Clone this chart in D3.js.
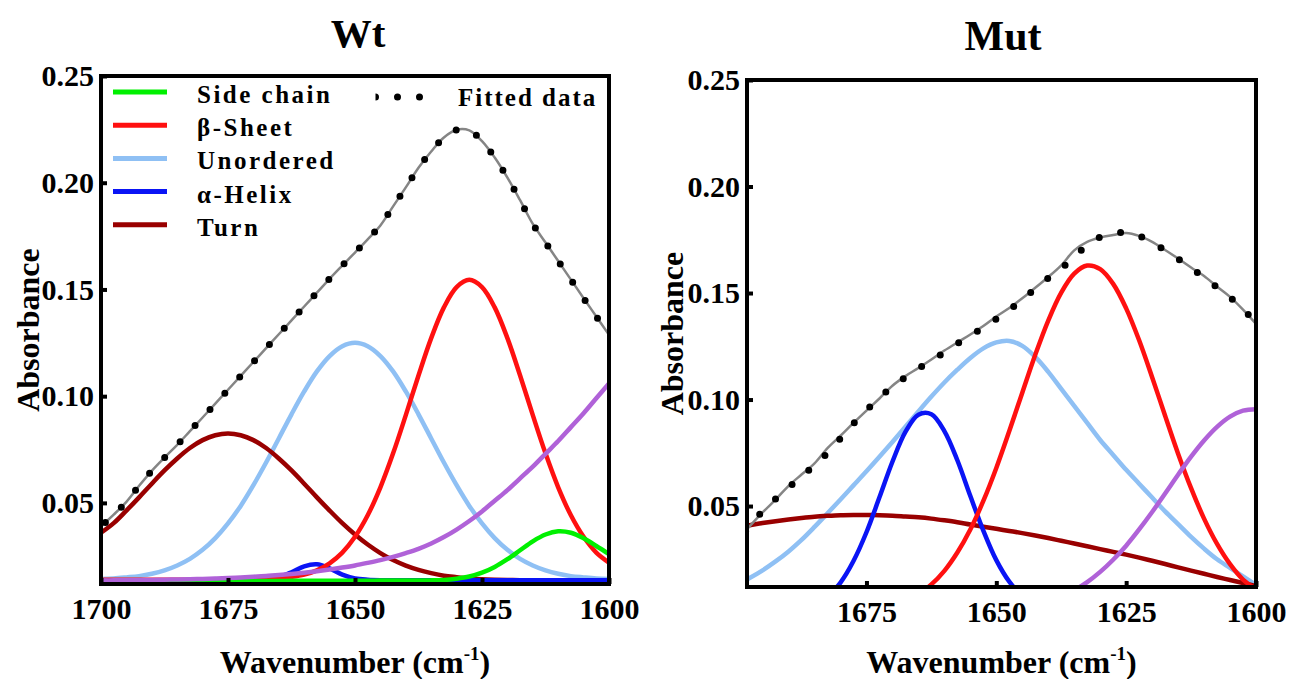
<!DOCTYPE html>
<html>
<head>
<meta charset="utf-8">
<script src="https://cdn.jsdelivr.net/npm/d3@7"></script>
<style>
  body { margin: 0; background: #fff; }
  svg text { font-family: "Liberation Serif", "Times New Roman", serif; font-weight: bold; fill: #000; }
</style>
</head>
<body>
<svg id="chart" width="1303" height="679" font-family="Liberation Serif, Times New Roman, serif" font-weight="bold"></svg>
<script>
// wavenumber grid shared by every series (cm-1)
var wavenumbers = [1700, 1697.5, 1695, 1692.5, 1690, 1687.5, 1685, 1682.5, 1680, 1677.5,
  1675, 1672.5, 1670, 1667.5, 1665, 1662.5, 1660, 1657.5, 1655, 1652.5,
  1650, 1647.5, 1645, 1642.5, 1640, 1637.5, 1635, 1632.5, 1630, 1627.5,
  1625, 1622.5, 1620, 1617.5, 1615, 1612.5, 1610, 1607.5, 1605, 1602.5, 1600];

var yTicks = [0.25, 0.20, 0.15, 0.10, 0.05];
var wtXTicks = [1700, 1675, 1650, 1625, 1600];
var mutXTicks = [1675, 1650, 1625, 1600];

var legendLabels = ["Side chain", "\u03b2-Sheet", "Unordered", "\u03b1-Helix", "Turn"];
var legendColors = ["#00f000", "#ff1010", "#8fc0f4", "#0a14f5", "#990000"];
var bandColor = "#b062d8";

// ---- Wt ----
var wtSideChain = [0.0133, 0.0133, 0.0133, 0.0133, 0.0133, 0.0133, 0.0133, 0.0133, 0.0134, 0.0134,
  0.0134, 0.0134, 0.0134, 0.0134, 0.0134, 0.0135, 0.0135, 0.0135, 0.0135, 0.0135,
  0.0135, 0.0135, 0.0136, 0.0136, 0.0136, 0.0136, 0.0137, 0.0139, 0.0145, 0.0155,
  0.0173, 0.0200, 0.0236, 0.0278, 0.0320, 0.0352, 0.0367, 0.0360, 0.0334, 0.0298, 0.0260];
var wtBetaSheet = [0.0140, 0.0140, 0.0140, 0.0140, 0.0140, 0.0140, 0.0140, 0.0140, 0.0140, 0.0140,
  0.0140, 0.0140, 0.0141, 0.0143, 0.0146, 0.0153, 0.0164, 0.0184, 0.0217, 0.0267,
  0.0341, 0.0442, 0.0573, 0.0732, 0.0911, 0.1097, 0.1272, 0.1416, 0.1511, 0.1545,
  0.1511, 0.1416, 0.1272, 0.1097, 0.0911, 0.0732, 0.0573, 0.0442, 0.0341, 0.0267, 0.0220];
var wtUnordered = [0.0144, 0.0146, 0.0151, 0.0157, 0.0168, 0.0184, 0.0207, 0.0238, 0.0280, 0.0335,
  0.0404, 0.0486, 0.0583, 0.0689, 0.0802, 0.0915, 0.1022, 0.1116, 0.1188, 0.1234,
  0.1250, 0.1234, 0.1188, 0.1116, 0.1022, 0.0915, 0.0802, 0.0689, 0.0583, 0.0486,
  0.0404, 0.0335, 0.0280, 0.0238, 0.0207, 0.0184, 0.0168, 0.0157, 0.0151, 0.0146, 0.0144];
var wtAlphaHelix = [0.0138, 0.0138, 0.0138, 0.0138, 0.0138, 0.0138, 0.0138, 0.0138, 0.0138, 0.0138,
  0.0138, 0.0138, 0.0138, 0.0141, 0.0152, 0.0175, 0.0203, 0.0212, 0.0193, 0.0164,
  0.0146, 0.0140, 0.0138, 0.0138, 0.0138, 0.0138, 0.0138, 0.0138, 0.0138, 0.0138,
  0.0138, 0.0138, 0.0138, 0.0138, 0.0138, 0.0138, 0.0138, 0.0138, 0.0138, 0.0138, 0.0138];
var wtTurn = [0.0360, 0.0405, 0.0464, 0.0526, 0.0590, 0.0652, 0.0708, 0.0757, 0.0794, 0.0817,
  0.0825, 0.0817, 0.0794, 0.0757, 0.0708, 0.0652, 0.0590, 0.0526, 0.0464, 0.0405,
  0.0352, 0.0305, 0.0265, 0.0232, 0.0206, 0.0186, 0.0171, 0.0159, 0.0152, 0.0146,
  0.0142, 0.0140, 0.0139, 0.0138, 0.0138, 0.0137, 0.0137, 0.0137, 0.0136, 0.0136, 0.0136];
var wtBand1600 = [0.0137, 0.0137, 0.0138, 0.0138, 0.0139, 0.0140, 0.0141, 0.0142, 0.0144, 0.0146,
  0.0148, 0.0151, 0.0154, 0.0158, 0.0162, 0.0167, 0.0173, 0.0180, 0.0188, 0.0197,
  0.0207, 0.0219, 0.0232, 0.0247, 0.0265, 0.0285, 0.0310, 0.0340, 0.0375, 0.0415,
  0.0460, 0.0510, 0.0560, 0.0615, 0.0670, 0.0730, 0.0790, 0.0855, 0.0920, 0.0990, 0.1060];
var wtFitted = [0.0390, 0.0445, 0.0505, 0.0580, 0.0650, 0.0712, 0.0772, 0.0836, 0.0900, 0.0965,
  0.1030, 0.1095, 0.1160, 0.1225, 0.1290, 0.1355, 0.1420, 0.1485, 0.1550, 0.1612,
  0.1673, 0.1735, 0.1800, 0.1889, 0.1978, 0.2070, 0.2146, 0.2212, 0.2248, 0.2245,
  0.2195, 0.2118, 0.2024, 0.1918, 0.1807, 0.1720, 0.1633, 0.1546, 0.1459, 0.1373, 0.1287];

// ---- Mut ----
var mutBetaSheet = [0.0000, 0.0000, 0.0000, 0.0000, 0.0000, 0.0000, 0.0000, 0.0001, 0.0003, 0.0006,
  0.0011, 0.0019, 0.0033, 0.0054, 0.0086, 0.0132, 0.0196, 0.0282, 0.0390, 0.0524,
  0.0679, 0.0852, 0.1032, 0.1210, 0.1371, 0.1502, 0.1591, 0.1629, 0.1612, 0.1543,
  0.1428, 0.1278, 0.1105, 0.0924, 0.0746, 0.0584, 0.0441, 0.0322, 0.0227, 0.0155, 0.0110];
var mutUnordered = [0.0132, 0.0162, 0.0198, 0.0240, 0.0287, 0.0341, 0.0402, 0.0466, 0.0531, 0.0597,
  0.0663, 0.0731, 0.0801, 0.0872, 0.0944, 0.1014, 0.1080, 0.1140, 0.1195, 0.1240,
  0.1268, 0.1275, 0.1252, 0.1200, 0.1130, 0.1050, 0.0970, 0.0890, 0.0810, 0.0740,
  0.0670, 0.0605, 0.0540, 0.0475, 0.0415, 0.0355, 0.0300, 0.0250, 0.0210, 0.0170, 0.0130];
var mutAlphaHelix = [0.0000, 0.0000, 0.0001, 0.0003, 0.0007, 0.0016, 0.0037, 0.0075, 0.0141, 0.0242,
  0.0377, 0.0541, 0.0708, 0.0848, 0.0929, 0.0931, 0.0852, 0.0715, 0.0547, 0.0385,
  0.0246, 0.0145, 0.0078, 0.0038, 0.0017, 0.0007, 0.0002, 0.0000, 0.0000, 0.0000,
  0.0000, 0.0000, 0.0000, 0.0000, 0.0000, 0.0000, 0.0000, 0.0000, 0.0000, 0.0000, 0.0000];
var mutTurn = [0.0395, 0.0410, 0.0420, 0.0429, 0.0437, 0.0444, 0.0450, 0.0454, 0.0457, 0.0458,
  0.0458, 0.0457, 0.0455, 0.0451, 0.0447, 0.0441, 0.0433, 0.0424, 0.0413, 0.0403,
  0.0393, 0.0383, 0.0373, 0.0362, 0.0350, 0.0337, 0.0324, 0.0311, 0.0298, 0.0285,
  0.0272, 0.0258, 0.0243, 0.0228, 0.0212, 0.0197, 0.0182, 0.0167, 0.0153, 0.0139, 0.0125];
var mutBand1600 = [0.0000, 0.0000, 0.0000, 0.0000, 0.0000, 0.0000, 0.0000, 0.0000, 0.0000, 0.0000,
  0.0000, 0.0001, 0.0001, 0.0002, 0.0002, 0.0003, 0.0004, 0.0005, 0.0006, 0.0008,
  0.0010, 0.0016, 0.0025, 0.0036, 0.0053, 0.0076, 0.0105, 0.0143, 0.0191, 0.0248,
  0.0314, 0.0390, 0.0472, 0.0559, 0.0647, 0.0732, 0.0808, 0.0872, 0.0920, 0.0948, 0.0955];
var mutData = [0.0345, 0.0400, 0.0478, 0.0533, 0.0585, 0.0643, 0.0688, 0.0750, 0.0818, 0.0887,
  0.0950, 0.1008, 0.1062, 0.1105, 0.1145, 0.1183, 0.1222, 0.1262, 0.1300, 0.1338,
  0.1378, 0.1420, 0.1470, 0.1520, 0.1570, 0.1615, 0.1670, 0.1725, 0.1762, 0.1778,
  0.1785, 0.1768, 0.1738, 0.1700, 0.1660, 0.1617, 0.1573, 0.1527, 0.1480, 0.1425, 0.1360];
var mutFit = [0.0340, 0.0405, 0.0470, 0.0530, 0.0595, 0.0648, 0.0700, 0.0772, 0.0830, 0.0890,
  0.0948, 0.1005, 0.1065, 0.1110, 0.1148, 0.1188, 0.1230, 0.1268, 0.1305, 0.1345,
  0.1390, 0.1430, 0.1475, 0.1525, 0.1575, 0.1630, 0.1700, 0.1740, 0.1760, 0.1772,
  0.1782, 0.1768, 0.1740, 0.1702, 0.1662, 0.1620, 0.1580, 0.1530, 0.1482, 0.1422, 0.1355];

var svg = d3.select("#chart");
var serif = "Liberation Serif, Times New Roman, serif";
var yDomain = [0.012, 0.25];

function label(sel) {
  return sel.attr("font-family", serif).attr("font-weight", "bold").attr("fill", "#000");
}

function drawPanel(cfg) {
  var x = d3.scaleLinear().domain(cfg.xDomain).range([cfg.left, cfg.right]);
  var y = d3.scaleLinear().domain(yDomain).range([cfg.bottom, cfg.top]);
  var g = svg.append("g");

  svg.append("clipPath").attr("id", "clip-" + cfg.id)
    .append("rect")
    .attr("x", cfg.left).attr("y", cfg.top)
    .attr("width", cfg.right - cfg.left).attr("height", cfg.bottom - cfg.top);

  var line = d3.line()
    .x(function (d, i) { return x(wavenumbers[i]); })
    .y(function (d) { return y(d); })
    .curve(d3.curveCatmullRom.alpha(0.5));

  var plot = g.append("g").attr("clip-path", "url(#clip-" + cfg.id + ")");
  cfg.series.forEach(function (s) {
    plot.append("path").attr("d", line(s.values))
      .attr("fill", "none").attr("stroke", s.color).attr("stroke-width", 4.5);
  });
  plot.append("path").attr("d", line(cfg.fit))
    .attr("fill", "none").attr("stroke", "#858585").attr("stroke-width", 2.5);
  plot.append("path").attr("d", line(cfg.data))
    .attr("fill", "none").attr("stroke", "#000").attr("stroke-width", 7)
    .attr("stroke-linecap", "round").attr("stroke-dasharray", "0 22")
    .attr("stroke-dashoffset", cfg.dotOffset);

  // axes, ticks point inward
  var xAxis = d3.axisBottom(x).tickValues(cfg.xTicks).tickSize(-6).tickPadding(14)
    .tickFormat(d3.format("d"));
  var ax = g.append("g").attr("transform", "translate(0," + cfg.bottom + ")").call(xAxis);
  var yAxis = d3.axisLeft(y).tickValues(yTicks).tickSize(-6).tickPadding(7)
    .tickFormat(d3.format(".2f"));
  var ay = g.append("g").attr("transform", "translate(" + cfg.left + ",0)").call(yAxis);
  [ax, ay].forEach(function (a) {
    a.attr("font-family", serif).attr("font-size", 30).attr("font-weight", "bold");
    a.select(".domain").remove();
    a.selectAll(".tick line").attr("stroke", "#000").attr("stroke-width", 4);
    label(a.selectAll(".tick text"));
  });

  g.append("rect")
    .attr("x", cfg.left).attr("y", cfg.top)
    .attr("width", cfg.right - cfg.left).attr("height", cfg.bottom - cfg.top)
    .attr("fill", "none").attr("stroke", "#000").attr("stroke-width", 4);

  label(g.append("text")).attr("x", cfg.titleX).attr("y", cfg.titleY)
    .attr("text-anchor", "middle").attr("font-size", cfg.titleSize).text(cfg.title);

  label(g.append("text"))
    .attr("transform", "translate(" + cfg.yLabelX + "," + ((cfg.top + cfg.bottom) / 2) + ") rotate(-90)")
    .attr("text-anchor", "middle").attr("dy", "0.35em").attr("font-size", 32)
    .text("Absorbance");

  var xt = label(g.append("text")).attr("x", (cfg.left + cfg.right) / 2).attr("y", 673)
    .attr("text-anchor", "middle").attr("font-size", 32);
  xt.append("tspan").text("Wavenumber (cm");
  xt.append("tspan").attr("dy", -13).attr("font-size", 19).text("-1");
  xt.append("tspan").attr("dy", 13).text(")");

  return g;
}

drawPanel({
  id: "wt", title: "Wt", titleX: 358, titleY: 47, titleSize: 41,
  left: 101, right: 609, top: 76, bottom: 584, yLabelX: 28,
  xDomain: [1700, 1600], xTicks: wtXTicks, dotOffset: -6,
  series: [
    { values: wtUnordered, color: legendColors[2] },
    { values: wtTurn, color: legendColors[4] },
    { values: wtAlphaHelix, color: legendColors[3] },
    { values: wtBetaSheet, color: legendColors[1] },
    { values: wtSideChain, color: legendColors[0] },
    { values: wtBand1600, color: bandColor }
  ],
  fit: wtFitted, data: wtFitted
});

drawPanel({
  id: "mut", title: "Mut", titleX: 1003, titleY: 50, titleSize: 42,
  left: 747, right: 1256, top: 80, bottom: 587, yLabelX: 672,
  xDomain: [1698, 1600], xTicks: mutXTicks, dotOffset: -12,
  series: [
    { values: mutUnordered, color: legendColors[2] },
    { values: mutTurn, color: legendColors[4] },
    { values: mutAlphaHelix, color: legendColors[3] },
    { values: mutBetaSheet, color: legendColors[1] },
    { values: mutBand1600, color: bandColor }
  ],
  fit: mutFit, data: mutData
});

// legend (Wt panel only)
var legend = svg.append("g");
legendLabels.forEach(function (name, i) {
  var ly = 92 + i * 33.2;
  legend.append("line").attr("x1", 113).attr("x2", 167).attr("y1", ly).attr("y2", ly)
    .attr("stroke", legendColors[i]).attr("stroke-width", 5);
  label(legend.append("text")).attr("x", 197).attr("y", ly + 11)
    .attr("font-size", 25).attr("letter-spacing", 2.5).text(name);
});
svg.append("clipPath").attr("id", "clip-legend-dots")
  .append("rect").attr("x", 375.5).attr("y", 85).attr("width", 60).attr("height", 25);
legend.append("line").attr("x1", 375.5).attr("x2", 430).attr("y1", 97).attr("y2", 97)
  .attr("clip-path", "url(#clip-legend-dots)")
  .attr("stroke", "#000").attr("stroke-width", 7).attr("stroke-linecap", "round")
  .attr("stroke-dasharray", "0 22");
label(legend.append("text")).attr("x", 458).attr("y", 106)
  .attr("font-size", 25).attr("letter-spacing", 2).text("Fitted data");
</script>
</body>
</html>
